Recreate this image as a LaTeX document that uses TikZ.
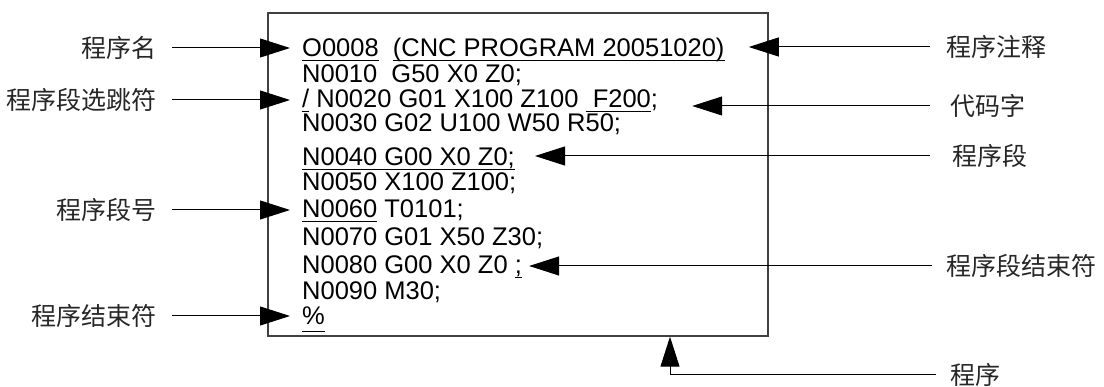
\documentclass[tikz,border=0pt]{standalone}
\usepackage{fontspec}
\usepackage{tikz}
\usetikzlibrary{arrows.meta,positioning}
\setmainfont{Liberation Sans}
\newfontfamily\cjk{Noto Sans CJK SC}
\newcommand{\undl}[2][-4.5pt]{\setbox0\hbox{#2}\rlap{\rule[#1]{\wd0}{1.1pt}}\box0\relax}

\begin{document}
\begin{tikzpicture}[x=1pt, y=-1pt,
  font=\fontsize{25.5}{26}\selectfont,
  frame/.style={draw=black!75, line width=1.4pt, minimum width=500pt,
                minimum height=323pt, inner sep=0pt},
  codeln/.style={anchor=base west, inner sep=0pt},
  lbl/.style={font=\cjk\fontsize{25}{26}\selectfont, text=black!85,
              inner sep=0pt},
  arr/.style={-{Triangle[length=30pt, width=19pt]}, line width=1pt, black}
]
\useasboundingbox (0,0) rectangle (1104,387);
\node[frame] (prog) at (518,174.5) {};
\node[codeln] (l1) at (302,57) {\undl{O0008}\ \ \undl{(CNC PROGRAM 20051020)}};
\node[codeln] (l2) at (302,83) {N0010\ \ G50 X0 Z0;};
\node[codeln] (l3) at (302,108) {\undl{/} N0020 G01 X100 Z100\ \undl{\ F200};};
\node[codeln] (l4) at (302,132) {N0030 G02 U100 W50 R50;};
\node[codeln] (l5) at (302,166) {\undl{N0040 G00 X0 Z0;}};
\node[codeln] (l6) at (302,191) {N0050 X100 Z100;};
\node[codeln] (l7) at (302,218) {\undl{N0060} T0101;};
\node[codeln] (l8) at (302,246) {N0070 G01 X50 Z30;};
\node[codeln] (l9) at (302,274) {N0080 G00 X0 Z0 \undl{;}};
\node[codeln] (l10) at (302,300) {N0090 M30;};
\node[codeln] (l11) at (302,325) {\undl[-7pt]{\%}};

\node[lbl, anchor=east] (nm) at (157,48) {程序名};
\node[lbl, anchor=east] (skip) at (157,100) {程序段选跳符};
\node[lbl, anchor=east] (seqno) at (157,210) {程序段号};
\node[lbl, anchor=east] (endp) at (157,316) {程序结束符};
\node[lbl, anchor=west] (cmt) at (946,47) {程序注释};
\node[lbl, anchor=west] (word) at (950,106) {代码字};
\node[lbl, anchor=west] (blk) at (952,156) {程序段};
\node[lbl, anchor=west] (eob) at (946,266) {程序段结束符};
\node[lbl, anchor=west] (prg) at (950,375) {程序};

\coordinate (tl) at ([xshift=-12pt]l1.west);
\coordinate (tcmt) at ([xshift=24pt]l1.east);
\coordinate (tword) at ([xshift=34pt]l3.east);
\coordinate (tblk) at ([xshift=20pt]l5.east);
\coordinate (teob) at ([xshift=7pt]l9.east);

\draw[arr] ([xshift=15pt]nm.east) -- (nm.east -| tl);
\draw[arr] ([xshift=15pt]skip.east) -- (skip.east -| tl);
\draw[arr] ([xshift=15pt]seqno.east) -- (seqno.east -| tl);
\draw[arr] ([xshift=15pt]endp.east) -- (endp.east -| tl);
\draw[arr] ([xshift=-16pt]cmt.west) -- (cmt.west -| tcmt);
\draw[arr] ([xshift=-20pt]word.west) -- (word.west -| tword);
\draw[arr] ([xshift=-22pt]blk.west) -- (blk.west -| tblk);
\draw[arr] ([xshift=-14pt]eob.west) -- (eob.west -| teob);
\draw[arr] ([xshift=-14pt]prg.west) -| ([xshift=152pt]prog.south);
\end{tikzpicture}
\end{document}
